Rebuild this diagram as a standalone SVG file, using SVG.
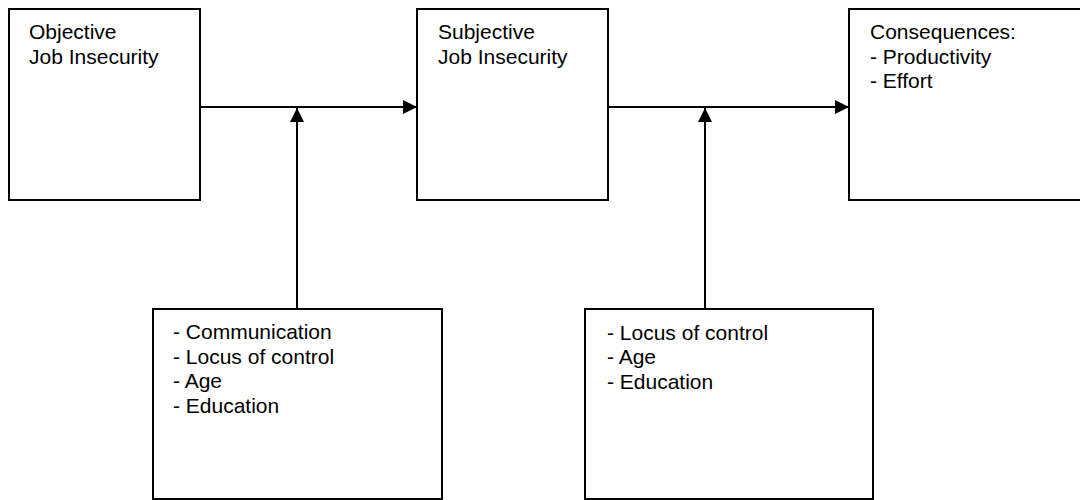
<svg xmlns="http://www.w3.org/2000/svg" width="1080" height="500" viewBox="0 0 1080 500">
<style>
.box{fill:#fff;stroke:#000;stroke-width:2}
.t{font-family:"Liberation Sans",Arial,sans-serif;font-size:21px;fill:#000}
.c{stroke:#000;stroke-width:2;fill:none}
</style>
<defs>
<marker id="ah" markerUnits="userSpaceOnUse" markerWidth="14" markerHeight="14" refX="14" refY="7" orient="auto">
<path d="M0,0 L14,7 L0,14 Z" fill="#000"/>
</marker>
</defs>
<rect width="1080" height="500" fill="#fff"/>
<g id="objective">
<rect class="box" x="9" y="9" width="191" height="191"/>
<text class="t" x="29" y="39">Objective</text>
<text class="t" x="29" y="64">Job Insecurity</text>
</g>
<g id="subjective">
<rect class="box" x="417" y="9" width="191" height="191"/>
<text class="t" x="438" y="39">Subjective</text>
<text class="t" x="438" y="64">Job Insecurity</text>
</g>
<g id="consequences">
<rect class="box" x="849" y="9" width="260" height="191"/>
<text class="t" x="870" y="39">Consequences:</text>
<text class="t" x="870" y="64">- Productivity</text>
<text class="t" x="870" y="88">- Effort</text>
</g>
<g id="moderators1">
<rect class="box" x="153" y="309" width="289" height="190"/>
<text class="t" x="173" y="339">- Communication</text>
<text class="t" x="173" y="364">- Locus of control</text>
<text class="t" x="173" y="388">- Age</text>
<text class="t" x="173" y="413">- Education</text>
</g>
<g id="moderators2">
<rect class="box" x="585" y="309" width="288" height="190"/>
<text class="t" x="607" y="340">- Locus of control</text>
<text class="t" x="607" y="364">- Age</text>
<text class="t" x="607" y="389">- Education</text>
</g>
<g id="connectors">
<line class="c" x1="200" y1="107" x2="417" y2="107" marker-end="url(#ah)"/>
<line class="c" x1="608" y1="107" x2="849" y2="107" marker-end="url(#ah)"/>
<line class="c" x1="297" y1="309" x2="297" y2="108" marker-end="url(#ah)"/>
<line class="c" x1="705" y1="309" x2="705" y2="108" marker-end="url(#ah)"/>
</g>
</svg>
